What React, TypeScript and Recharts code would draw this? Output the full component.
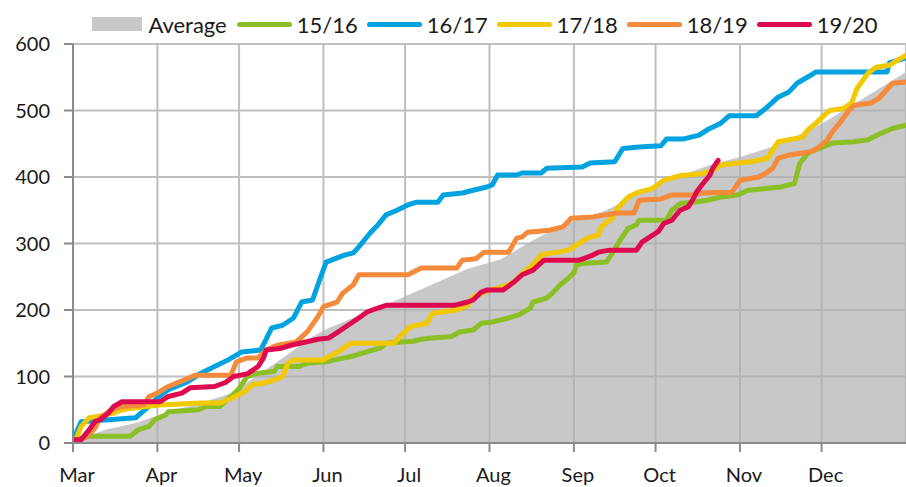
import React from "react";
import { ComposedChart, Area, Line, XAxis, YAxis, CartesianGrid } from "recharts";

// day 0 = 1 March, day 306 = 31 December
const MONTHS = ["Mar", "Apr", "May", "Jun", "Jul", "Aug", "Sep", "Oct", "Nov", "Dec"];
const MONTH_DAYS = [0, 31, 61, 92, 122, 153, 184, 214, 245, 275];
const Y_TICKS = [0, 100, 200, 300, 400, 500, 600];

const avgDays = [0, 5, 12, 23, 35, 47, 59, 67, 76, 88, 94, 107, 119, 129, 145, 157, 169, 181, 191, 197, 205, 216, 225, 234, 245, 255, 265, 275, 285, 295, 306];
const avgVals = [3, 10, 20, 30, 47, 60, 76, 100, 125, 160, 173, 195, 215, 233, 262, 276, 305, 330, 343, 352, 370, 393, 405, 418, 430, 443, 460, 480, 505, 530, 558];

const days1516 = [1, 5, 21, 24, 28, 30, 34, 35, 46, 49, 54, 58, 61, 64, 68, 74, 75, 83, 86, 93, 96, 102, 107, 113, 115, 120, 125, 128, 132, 139, 142, 147, 150, 154, 160, 164, 168, 169, 174, 176, 179, 182, 184, 185, 187, 196, 198, 201, 204, 207, 208, 218, 220, 223, 228, 233, 238, 244, 248, 260, 265, 267, 270, 274, 279, 287, 292, 297, 301, 306];
const vals1516 = [5, 10, 10, 20, 25, 35, 42, 47, 50, 55, 55, 70, 82, 100, 105, 108, 115, 115, 120, 122, 125, 130, 136, 143, 150, 152, 153, 156, 158, 160, 167, 170, 180, 182, 188, 193, 203, 212, 218, 225, 238, 248, 256, 268, 270, 272, 285, 305, 323, 328, 335, 335, 350, 360, 362, 365, 370, 373, 380, 385, 390, 421, 436, 443, 451, 453, 456, 466, 473, 478];

const days1617 = [0, 3, 23, 27, 31, 35, 42, 47, 52, 57, 62, 69, 73, 77, 81, 84, 88, 91, 93, 98, 100, 103, 105, 109, 112, 115, 119, 123, 126, 134, 136, 143, 147, 152, 154, 156, 163, 165, 172, 174, 187, 190, 199, 202, 208, 216, 218, 224, 227, 230, 233, 238, 241, 251, 255, 259, 263, 266, 271, 273, 299, 300, 306];
const vals1617 = [5, 32, 38, 52, 68, 80, 92, 105, 115, 125, 137, 140, 173, 177, 188, 212, 215, 250, 272, 280, 283, 286, 295, 315, 328, 343, 350, 358, 362, 362, 373, 376, 380, 385, 388, 403, 403, 406, 406, 413, 415, 421, 423, 443, 445, 447, 457, 457, 460, 463, 471, 481, 492, 492, 505, 520, 528, 541, 553, 558, 558, 572, 579];

const days1718 = [1, 3, 6, 9, 15, 18, 21, 27, 32, 47, 54, 58, 63, 66, 70, 74, 77, 79, 81, 92, 94, 97, 101, 102, 118, 120, 124, 130, 132, 141, 145, 147, 150, 153, 158, 162, 165, 169, 172, 178, 182, 185, 189, 193, 194, 198, 200, 204, 207, 213, 217, 223, 231, 235, 238, 249, 255, 257, 259, 268, 270, 273, 276, 278, 283, 286, 288, 292, 295, 300, 303, 306];
const vals1718 = [5, 25, 38, 40, 45, 50, 52, 55, 57, 60, 60, 67, 77, 88, 90, 95, 100, 120, 125, 125, 130, 136, 147, 150, 150, 160, 175, 180, 195, 200, 207, 220, 225, 230, 235, 242, 255, 268, 283, 287, 290, 298, 308, 313, 325, 338, 353, 370, 376, 383, 395, 402, 405, 410, 418, 423, 428, 440, 453, 460, 471, 481, 493, 500, 503, 511, 533, 556, 565, 568, 576, 583];

const days1819 = [0, 5, 8, 10, 14, 18, 26, 28, 31, 34, 38, 41, 45, 58, 60, 64, 68, 71, 75, 82, 86, 90, 92, 97, 99, 103, 105, 123, 128, 141, 143, 148, 151, 160, 163, 165, 167, 175, 180, 183, 191, 200, 206, 208, 216, 220, 228, 231, 242, 245, 252, 255, 257, 259, 263, 271, 274, 277, 279, 282, 285, 287, 293, 296, 301, 306];
const vals1819 = [2, 9, 22, 38, 50, 55, 57, 70, 75, 83, 90, 95, 102, 102, 122, 128, 128, 140, 147, 152, 167, 190, 205, 212, 225, 238, 253, 253, 263, 263, 275, 277, 287, 287, 308, 310, 317, 320, 325, 338, 340, 346, 346, 365, 367, 373, 373, 376, 377, 395, 400, 407, 413, 428, 433, 438, 445, 455, 468, 483, 500, 508, 511, 518, 541, 543];

const days1920 = [0, 3, 6, 8, 10, 13, 15, 18, 32, 35, 40, 43, 52, 56, 59, 64, 68, 70, 71, 76, 80, 90, 94, 97, 101, 105, 108, 112, 115, 140, 145, 147, 150, 152, 158, 162, 165, 169, 173, 186, 190, 193, 197, 207, 209, 212, 215, 217, 220, 223, 226, 228, 229, 231, 234, 235, 237];
const vals1920 = [5, 5, 20, 32, 35, 45, 55, 62, 62, 70, 75, 83, 85, 91, 100, 104, 115, 128, 140, 142, 147, 156, 158, 166, 177, 188, 197, 203, 207, 207, 212, 215, 227, 230, 230, 242, 253, 260, 275, 275, 281, 287, 290, 290, 302, 310, 318, 330, 335, 350, 355, 368, 377, 388, 403, 413, 425];

const toPoints = (days: number[], vals: number[]) => days.map((d, i) => ({ d, v: vals[i] }));

const SERIES = [
  { name: "15/16", color: "#8cbf26", data: toPoints(days1516, vals1516) },
  { name: "16/17", color: "#00a3e0", data: toPoints(days1617, vals1617) },
  { name: "17/18", color: "#f2c800", data: toPoints(days1718, vals1718) },
  { name: "18/19", color: "#f38a3c", data: toPoints(days1819, vals1819) },
  { name: "19/20", color: "#dd0a4f", data: toPoints(days1920, vals1920) },
];

const FONT = "Lato, 'Open Sans', sans-serif";
const AXIS_COLOR = "#8a8a8a";

function ChartLegend() {
  return (
    <div
      style={{
        position: "absolute",
        top: 10,
        left: 73,
        width: 833,
        height: 28,
        display: "flex",
        justifyContent: "center",
        alignItems: "center",
        fontFamily: FONT,
        fontSize: 22,
        color: "#1a1a1a",
        zIndex: 2,
      }}
    >
      <span style={{ width: 50, height: 14, background: "#c8c8c8", marginRight: 6 }} />
      <span style={{ marginRight: 10 }}>Average</span>
      {SERIES.map((s) => (
        <React.Fragment key={s.name}>
          <span style={{ width: 55, height: 5, borderRadius: 3, background: s.color, marginRight: 5 }} />
          <span style={{ marginRight: 9 }}>{s.name}</span>
        </React.Fragment>
      ))}
    </div>
  );
}

export default function App() {
  return (
    <div style={{ position: "absolute", left: 0, top: 0, width: 906, height: 487, background: "#fff" }}>
      <ChartLegend />
      <ComposedChart width={906} height={487} margin={{ top: 44, right: 0, bottom: 0, left: 0 }}>
        <CartesianGrid stroke="#bfbfbf" strokeWidth={2} />
        <XAxis
          dataKey="d"
          type="number"
          domain={[0, 306]}
          ticks={MONTH_DAYS}
          tickFormatter={(d: number) => MONTHS[MONTH_DAYS.indexOf(d)]}
          allowDataOverflow
          height={44}
          stroke={AXIS_COLOR}
          axisLine={{ stroke: AXIS_COLOR, strokeWidth: 2 }}
          tickLine={{ stroke: AXIS_COLOR, strokeWidth: 2 }}
          tickSize={9}
          tickMargin={16}
          tick={{ fill: "#1a1a1a", fontSize: 20, fontFamily: FONT, dx: 4 }}
        />
        <YAxis
          type="number"
          domain={[0, 600]}
          ticks={Y_TICKS}
          width={73}
          axisLine={{ stroke: AXIS_COLOR, strokeWidth: 2 }}
          tickLine={{ stroke: AXIS_COLOR, strokeWidth: 2 }}
          tickSize={9}
          tickMargin={14}
          tick={{ fill: "#1a1a1a", fontSize: 20, fontFamily: FONT }}
        />
        <Area
          data={toPoints(avgDays, avgVals)}
          dataKey="v"
          name="Average"
          type="linear"
          fill="#afafaf"
          fillOpacity={0.69}
          stroke="none"
          isAnimationActive={false}
        />
        {SERIES.map((s) => (
          <Line
            key={s.name}
            data={s.data}
            dataKey="v"
            name={s.name}
            type="linear"
            stroke={s.color}
            strokeWidth={5}
            strokeLinecap="round"
            strokeLinejoin="round"
            dot={false}
            activeDot={false}
            isAnimationActive={false}
          />
        ))}
      </ComposedChart>
    </div>
  );
}
